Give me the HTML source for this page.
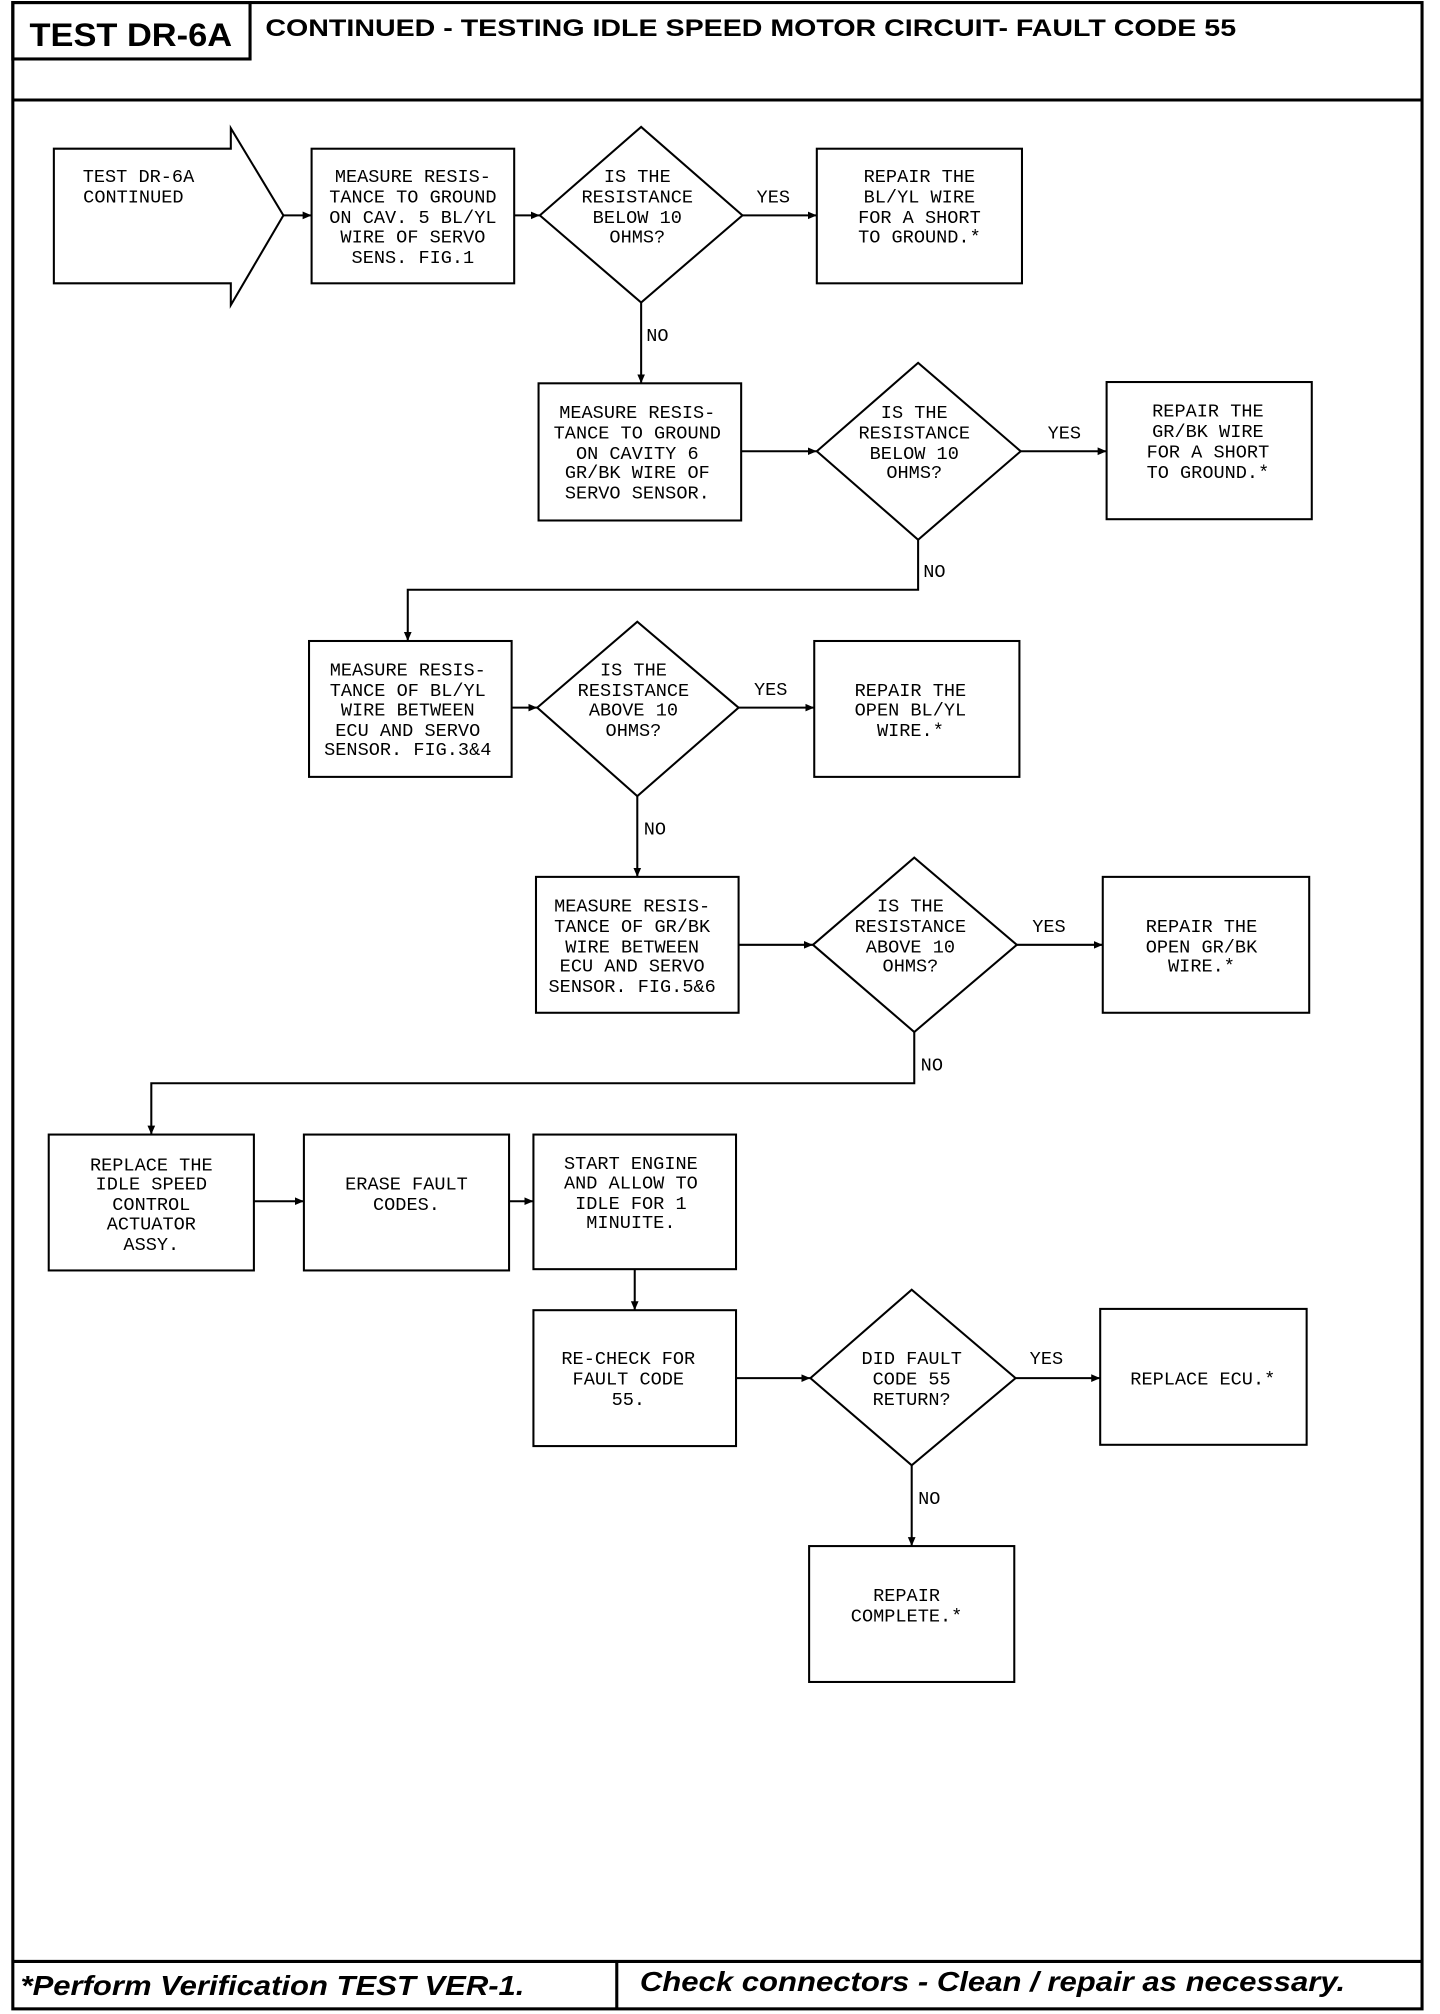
<!DOCTYPE html>
<html><head><meta charset="utf-8"><style>
html,body{margin:0;padding:0;background:#fff;}
svg{display:block;}
.t{font-family:"Liberation Mono",monospace;font-size:14.5px;fill:#000;text-anchor:middle;}
.l{font-family:"Liberation Mono",monospace;font-size:14.5px;fill:#000;}
</style></head><body>
<svg width="1440" height="2014" viewBox="0 0 1123 1571" preserveAspectRatio="none" xmlns="http://www.w3.org/2000/svg">
<defs><marker id="a" markerWidth="8" markerHeight="8" refX="7" refY="4" orient="auto" markerUnits="userSpaceOnUse"><path d="M0,1 L7,4 L0,7 z" fill="#000"/></marker></defs>
<g fill="none" stroke="#000" stroke-width="2.4">
<rect x="10" y="2" width="1099" height="1565"/>
<line x1="10" y1="78" x2="1109" y2="78"/>
<rect x="10" y="2" width="185" height="44"/>
<line x1="10" y1="1530" x2="1109" y2="1530"/>
<line x1="481" y1="1530" x2="481" y2="1567"/>
</g>
<text x="23" y="36" font-family="Liberation Sans,sans-serif" font-weight="bold" font-size="25" textLength="158" lengthAdjust="spacingAndGlyphs">TEST DR-6A</text>
<text x="207" y="28" font-family="Liberation Sans,sans-serif" font-weight="bold" font-size="19" textLength="757" lengthAdjust="spacingAndGlyphs">CONTINUED -  TESTING IDLE SPEED MOTOR CIRCUIT- FAULT CODE 55</text>
<text x="16" y="1556" font-family="Liberation Sans,sans-serif" font-weight="bold" font-style="italic" font-size="22" textLength="393" lengthAdjust="spacingAndGlyphs">*Perform Verification TEST VER-1.</text>
<text x="499" y="1553" font-family="Liberation Sans,sans-serif" font-weight="bold" font-style="italic" font-size="22" textLength="550" lengthAdjust="spacingAndGlyphs">Check connectors - Clean / repair as necessary.</text>

<g fill="none" stroke="#000" stroke-width="1.6">
<path d="M42,116 L180,116 L180,100 L221,168 L180,238 L180,221 L42,221 Z"/>
<rect x="243" y="116" width="158" height="105"/>
<path d="M421,168 L500,99 L579,168 L500,236 Z"/>
<rect x="637" y="116" width="160" height="105"/>
<rect x="420" y="299" width="158" height="107"/>
<path d="M637,352 L716,283 L796,352 L716,421 Z"/>
<rect x="863" y="298" width="160" height="107"/>
<rect x="241" y="500" width="158" height="106"/>
<path d="M419,552 L497,485 L576,552 L497,621 Z"/>
<rect x="635" y="500" width="160" height="106"/>
<rect x="418" y="684" width="158" height="106"/>
<path d="M634,737 L713,669 L793,737 L713,805 Z"/>
<rect x="860" y="684" width="161" height="106"/>
<rect x="38" y="885" width="160" height="106"/>
<rect x="237" y="885" width="160" height="106"/>
<rect x="416" y="885" width="158" height="105"/>
<rect x="416" y="1022" width="158" height="106"/>
<path d="M632,1075 L711,1006 L792,1075 L711,1143 Z"/>
<rect x="858" y="1021" width="161" height="106"/>
<rect x="631" y="1206" width="160" height="106"/>
</g>
<g fill="none" stroke="#000" stroke-width="1.6" marker-end="url(#a)">
<line x1="221" y1="168" x2="243" y2="168"/>
<line x1="401" y1="168" x2="421" y2="168"/>
<line x1="579" y1="168" x2="637" y2="168"/>
<line x1="500" y1="236" x2="500" y2="299"/>
<line x1="578" y1="352" x2="637" y2="352"/>
<line x1="796" y1="352" x2="863" y2="352"/>
<polyline points="716,421 716,460 318,460 318,500"/>
<line x1="399" y1="552" x2="419" y2="552"/>
<line x1="576" y1="552" x2="635" y2="552"/>
<line x1="497" y1="621" x2="497" y2="684"/>
<line x1="576" y1="737" x2="634" y2="737"/>
<line x1="793" y1="737" x2="860" y2="737"/>
<polyline points="713,805 713,845 118,845 118,885"/>
<line x1="198" y1="937" x2="237" y2="937"/>
<line x1="397" y1="937" x2="416" y2="937"/>
<line x1="495" y1="990" x2="495" y2="1022"/>
<line x1="574" y1="1075" x2="632" y2="1075"/>
<line x1="792" y1="1075" x2="858" y2="1075"/>
<line x1="711" y1="1143" x2="711" y2="1206"/>
</g>

<text class="t" x="108" y="142">TEST DR-6A</text>
<text class="t" x="104" y="158">CONTINUED</text>

<text class="t" x="322" y="142">MEASURE RESIS-</text>
<text class="t" x="322" y="158">TANCE TO GROUND</text>
<text class="t" x="322" y="174">ON CAV. 5 BL/YL</text>
<text class="t" x="322" y="189">WIRE OF SERVO</text>
<text class="t" x="322" y="205">SENS. FIG.1</text>

<text class="t" x="497" y="142">IS THE</text>
<text class="t" x="497" y="158">RESISTANCE</text>
<text class="t" x="497" y="174">BELOW 10</text>
<text class="t" x="497" y="189">OHMS?</text>
<text class="l" x="590" y="158">YES</text>
<text class="t" x="717" y="142">REPAIR THE</text>
<text class="t" x="717" y="158">BL/YL WIRE</text>
<text class="t" x="717" y="174">FOR A SHORT</text>
<text class="t" x="717" y="189">TO GROUND.*</text>
<text class="l" x="504" y="266">NO</text>

<text class="t" x="497" y="326">MEASURE RESIS-</text>
<text class="t" x="497" y="342">TANCE TO GROUND</text>
<text class="t" x="497" y="358">ON CAVITY 6</text>
<text class="t" x="497" y="373">GR/BK WIRE OF</text>
<text class="t" x="497" y="389">SERVO SENSOR.</text>
<text class="t" x="713" y="326">IS THE</text>
<text class="t" x="713" y="342">RESISTANCE</text>
<text class="t" x="713" y="358">BELOW 10</text>
<text class="t" x="713" y="373">OHMS?</text>
<text class="l" x="817" y="342">YES</text>
<text class="t" x="942" y="325">REPAIR THE</text>
<text class="t" x="942" y="341">GR/BK WIRE</text>
<text class="t" x="942" y="357">FOR A SHORT</text>
<text class="t" x="942" y="373">TO GROUND.*</text>
<text class="l" x="720" y="450">NO</text>

<text class="t" x="318" y="527">MEASURE RESIS-</text>
<text class="t" x="318" y="543">TANCE OF BL/YL</text>
<text class="t" x="318" y="558">WIRE BETWEEN</text>
<text class="t" x="318" y="574">ECU AND SERVO</text>
<text class="t" x="318" y="589">SENSOR. FIG.3&amp;4</text>
<text class="t" x="494" y="527">IS THE</text>
<text class="t" x="494" y="543">RESISTANCE</text>
<text class="t" x="494" y="558">ABOVE 10</text>
<text class="t" x="494" y="574">OHMS?</text>
<text class="l" x="588" y="542">YES</text>
<text class="t" x="710" y="543">REPAIR THE</text>
<text class="t" x="710" y="558">OPEN BL/YL</text>
<text class="t" x="710" y="574">WIRE.*</text>
<text class="l" x="502" y="651">NO</text>

<text class="t" x="493" y="711">MEASURE RESIS-</text>
<text class="t" x="493" y="727">TANCE OF GR/BK</text>
<text class="t" x="493" y="743">WIRE BETWEEN</text>
<text class="t" x="493" y="758">ECU AND SERVO</text>
<text class="t" x="493" y="774">SENSOR. FIG.5&amp;6</text>
<text class="t" x="710" y="711">IS THE</text>
<text class="t" x="710" y="727">RESISTANCE</text>
<text class="t" x="710" y="743">ABOVE 10</text>
<text class="t" x="710" y="758">OHMS?</text>
<text class="l" x="805" y="727">YES</text>
<text class="t" x="937" y="727">REPAIR THE</text>
<text class="t" x="937" y="743">OPEN GR/BK</text>
<text class="t" x="937" y="758">WIRE.*</text>
<text class="l" x="718" y="835">NO</text>

<text class="t" x="118" y="913">REPLACE THE</text>
<text class="t" x="118" y="928">IDLE SPEED</text>
<text class="t" x="118" y="944">CONTROL</text>
<text class="t" x="118" y="959">ACTUATOR</text>
<text class="t" x="118" y="975">ASSY.</text>
<text class="t" x="317" y="928">ERASE FAULT</text>
<text class="t" x="317" y="944">CODES.</text>
<text class="t" x="492" y="912">START ENGINE</text>
<text class="t" x="492" y="927">AND ALLOW TO</text>
<text class="t" x="492" y="943">IDLE FOR 1</text>
<text class="t" x="492" y="958">MINUITE.</text>

<text class="t" x="490" y="1064">RE-CHECK FOR</text>
<text class="t" x="490" y="1080">FAULT CODE</text>
<text class="t" x="490" y="1096">55.</text>
<text class="t" x="711" y="1064">DID FAULT</text>
<text class="t" x="711" y="1080">CODE 55</text>
<text class="t" x="711" y="1096">RETURN?</text>
<text class="l" x="803" y="1064">YES</text>
<text class="t" x="938" y="1080">REPLACE ECU.*</text>
<text class="l" x="716" y="1173">NO</text>
<text class="t" x="707" y="1249">REPAIR</text>
<text class="t" x="707" y="1265">COMPLETE.*</text>
</svg>
</body></html>
